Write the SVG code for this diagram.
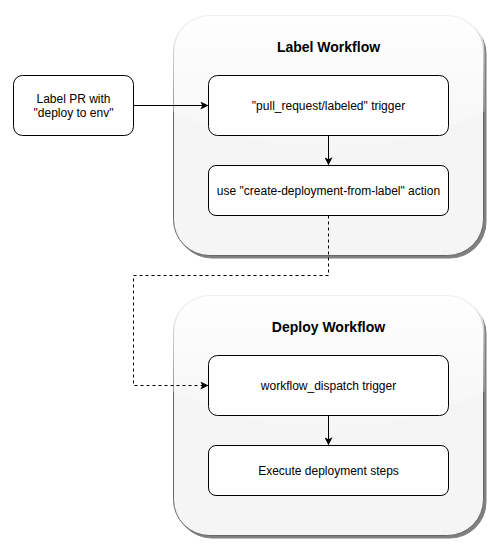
<svg xmlns="http://www.w3.org/2000/svg" width="501" height="548" viewBox="0 0 501 548">
<style>
text{font-family:"Liberation Sans",Arial,sans-serif;fill:#000;text-anchor:middle}
.t{font-size:12px}
.h{font-size:14px;font-weight:bold}
.box{fill:#fff;stroke:#000;stroke-width:1}
.cont{fill:#f5f5f5;stroke:#666;stroke-width:1}
.shadow{fill:#808080;stroke:#808080;stroke-width:1}
.edge{fill:none;stroke:#000;stroke-width:1}
</style>
<defs>
<linearGradient id="glass" x1="0" y1="0" x2="0" y2="1">
<stop offset="0" stop-color="#fff" stop-opacity="0.9"/>
<stop offset="1" stop-color="#fff" stop-opacity="0.1"/>
</linearGradient>
<marker id="arr" viewBox="0 0 10 10" refX="9" refY="5" markerWidth="8" markerHeight="8" markerUnits="userSpaceOnUse" orient="auto">
<path d="M0,0 L10,5 L0,10 L2.5,5 Z" fill="#000"/>
</marker>
</defs>
<g id="label-workflow">
<rect class="shadow" x="176" y="18" width="310" height="240" rx="36"/>
<rect class="cont" x="173.5" y="15.5" width="310" height="240" rx="36"/>
<path d="M172.5,53 Q172.5,14.5 211,14.5 L446,14.5 Q484.5,14.5 484.5,53 L484.5,111.5 Q328.5,183.5 172.5,111.5 Z" fill="url(#glass)"/>
<text class="h" x="328.5" y="52">Label Workflow</text>
</g>
<g id="deploy-workflow">
<rect class="shadow" x="176" y="298" width="310" height="240" rx="36"/>
<rect class="cont" x="173.5" y="295.5" width="310" height="240" rx="36"/>
<path d="M172.5,333 Q172.5,294.5 211,294.5 L446,294.5 Q484.5,294.5 484.5,333 L484.5,391.5 Q328.5,463.5 172.5,391.5 Z" fill="url(#glass)"/>
<text class="h" x="328.5" y="332">Deploy Workflow</text>
</g>
<g id="label-pr">
<rect class="box" x="13.5" y="75.5" width="120" height="60" rx="9"/>
<text class="t" x="73.5" y="103">Label PR with</text>
<text class="t" x="73.5" y="117">"deploy to env"</text>
</g>
<g id="pr-labeled-trigger">
<rect class="box" x="208.5" y="75.5" width="240" height="60" rx="9"/>
<text class="t" x="328.5" y="110">"pull_request/labeled" trigger</text>
</g>
<g id="create-deployment">
<rect class="box" x="208.5" y="165.5" width="240" height="50" rx="7.5"/>
<text class="t" x="328.5" y="195">use "create-deployment-from-label" action</text>
</g>
<g id="dispatch-trigger">
<rect class="box" x="208.5" y="355.5" width="240" height="60" rx="9"/>
<text class="t" x="328.5" y="390">workflow_dispatch trigger</text>
</g>
<g id="execute-steps">
<rect class="box" x="208.5" y="445.5" width="240" height="50" rx="7.5"/>
<text class="t" x="328.5" y="475">Execute deployment steps</text>
</g>
<g id="connectors">
<path class="edge" d="M133.5,105.5 L207.5,105.5" marker-end="url(#arr)"/>
<path class="edge" d="M328.5,135.5 L328.5,164.5" marker-end="url(#arr)"/>
<path class="edge" d="M328.5,215.5 L328.5,275.5 L133.5,275.5 L133.5,385.5 L207.5,385.5" stroke-dasharray="3 3" marker-end="url(#arr)"/>
<path class="edge" d="M328.5,415.5 L328.5,444.5" marker-end="url(#arr)"/>
</g>
</svg>
